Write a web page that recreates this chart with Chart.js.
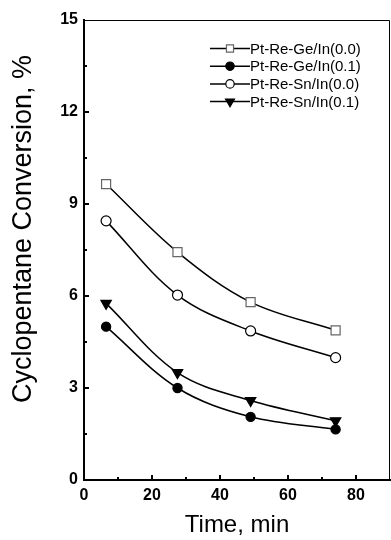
<!DOCTYPE html>
<html lang="en">

<head>
    <meta charset="UTF-8">
    <title>Cyclopentane conversion</title>
    <style>
        html, body { margin: 0; padding: 0; background: #fff; }
        #wrap { width: 391px; height: 540px; }
    </style>
</head>

<body>
    <div id="wrap">
        <canvas id="myChart" width="391" height="540"></canvas>
    </div>

    <script src="https://cdn.jsdelivr.net/npm/chart.js"></script>
    <script>
        // time on stream, min
        const times = [6.5, 27.5, 49, 74];

        const seriesNames = ['Pt-Re-Ge/In(0.0)', 'Pt-Re-Ge/In(0.1)', 'Pt-Re-Sn/In(0.0)', 'Pt-Re-Sn/In(0.1)'];
        const geIn00 = [9.65, 7.43, 5.8, 4.88];
        const geIn01 = [5.0, 3.0, 2.06, 1.65];
        const snIn00 = [8.45, 6.03, 4.86, 3.99];
        const snIn01 = [5.76, 3.5, 2.59, 1.93];

        const xTicks = [0, 20, 40, 60, 80];
        const yTicks = [0, 3, 6, 9, 12, 15];

        const xTitle = 'Time, min';
        const yTitle = 'Cyclopentane Conversion, %';

        const FONT = "'Liberation Sans', Arial, sans-serif";

        function pts(ys) {
            return times.map((t, i) => ({ x: t, y: ys[i] }));
        }

        const styles = [
            { pointStyle: 'rect', radius: 6.4, bg: '#fff', border: '#666', rot: 0, legR: 5 },
            { pointStyle: 'circle', radius: 4.6, bg: '#000', border: '#000', rot: 0, legR: 4.2 },
            { pointStyle: 'circle', radius: 5, bg: '#fff', border: '#000', rot: 0, legR: 4.2 },
            { pointStyle: 'triangle', radius: 6, bg: '#000', border: '#000', rot: 180, legR: 5.2 }
        ];

        const allData = [geIn00, geIn01, snIn00, snIn01];

        const datasets = allData.map((d, i) => ({
            label: seriesNames[i],
            data: pts(d),
            showLine: true,
            borderColor: '#000',
            borderWidth: 1.5,
            tension: 0.35,
            pointStyle: styles[i].pointStyle,
            pointRadius: styles[i].radius,
            pointRotation: styles[i].rot,
            pointBackgroundColor: styles[i].bg,
            pointBorderColor: styles[i].border,
            pointBorderWidth: 1.2,
            legR: styles[i].legR
        }));

        // inward ticks, top/right frame, rotated y title, legend
        const extras = {
            id: 'extras',
            afterDraw(chart) {
                const ctx = chart.ctx;
                const a = chart.chartArea;
                const xs = chart.scales.x, ys = chart.scales.y;
                ctx.save();

                // thin top and right frame
                ctx.strokeStyle = '#000';
                ctx.lineWidth = 1;
                ctx.beginPath();
                ctx.moveTo(a.left, a.top + 0.5);
                ctx.lineTo(a.right - 0.5, a.top + 0.5);
                ctx.lineTo(a.right - 0.5, a.bottom);
                ctx.stroke();

                // ticks
                ctx.lineWidth = 2;
                ctx.beginPath();
                for (let v = 10; v < 90; v += 10) {
                    const px = xs.getPixelForValue(v);
                    const len = v % 20 === 0 ? 5 : 3;
                    ctx.moveTo(px, a.bottom);
                    ctx.lineTo(px, a.bottom - len);
                }
                for (let v = 1.5; v < 15; v += 1.5) {
                    const py = ys.getPixelForValue(v);
                    const len = Math.abs(v % 3) < 0.01 ? 5 : 3;
                    ctx.moveTo(a.left, py);
                    ctx.lineTo(a.left + len, py);
                }
                ctx.stroke();

                // y title
                ctx.fillStyle = '#000';
                ctx.font = '27px ' + FONT;
                ctx.textAlign = 'center';
                ctx.textBaseline = 'middle';
                ctx.translate(23.5, 229);
                ctx.rotate(-Math.PI / 2);
                ctx.fillText(yTitle, 0, 0);
                ctx.setTransform(1, 0, 0, 1, 0, 0);

                // legend
                ctx.font = '15px ' + FONT;
                ctx.textAlign = 'left';
                chart.data.datasets.forEach((ds, i) => {
                    const y = 48.5 + i * 17.7;
                    ctx.strokeStyle = '#000';
                    ctx.lineWidth = 1.5;
                    ctx.beginPath();
                    ctx.moveTo(210, y);
                    ctx.lineTo(250, y);
                    ctx.stroke();
                    ctx.fillStyle = ds.pointBackgroundColor;
                    ctx.strokeStyle = ds.pointBorderColor;
                    ctx.lineWidth = 1.2;
                    Chart.helpers.drawPoint(ctx, {
                        pointStyle: ds.pointStyle,
                        radius: ds.legR,
                        rotation: ds.pointRotation,
                        borderWidth: 1.2
                    }, 230, y);
                    ctx.fillStyle = '#000';
                    ctx.fillText(ds.label, 250, y + 1);
                });

                ctx.restore();
            }
        };

        const ctx = document.getElementById('myChart');

        const chart = new Chart(ctx, {
            type: 'scatter',
            data: { datasets: datasets },
            options: {
                responsive: false,
                animation: false,
                layout: {
                    autoPadding: false,
                    padding: { top: 20, right: 1, left: 0, bottom: 0 }
                },
                plugins: {
                    legend: { display: false },
                    tooltip: { enabled: false }
                },
                scales: {
                    x: {
                        type: 'linear',
                        min: 0,
                        max: 90,
                        afterBuildTicks: (s) => { s.ticks = xTicks.map(v => ({ value: v })); },
                        afterFit: (s) => {
                            s.height = 60;
                            s.paddingLeft = 0;
                            s.paddingRight = 0;
                        },
                        grid: { display: false, drawTicks: false },
                        border: { display: true, color: '#000', width: 2 },
                        ticks: {
                            color: '#000',
                            padding: 6,
                            maxRotation: 0,
                            font: { family: FONT, size: 16, weight: 'bold' }
                        },
                        title: {
                            display: true,
                            text: xTitle,
                            color: '#000',
                            font: { family: FONT, size: 24 },
                            padding: { top: 0, bottom: 0 }
                        }
                    },
                    y: {
                        type: 'linear',
                        min: 0,
                        max: 15,
                        afterBuildTicks: (s) => { s.ticks = yTicks.map(v => ({ value: v })); },
                        afterFit: (s) => {
                            s.width = 84;
                            s.paddingTop = 0;
                            s.paddingBottom = 0;
                        },
                        grid: { display: false, drawTicks: false },
                        border: { display: true, color: '#000', width: 2 },
                        ticks: {
                            color: '#000',
                            padding: 6,
                            font: { family: FONT, size: 16, weight: 'bold' }
                        }
                    }
                }
            },
            plugins: [extras]
        });
    </script>

</body>

</html>
